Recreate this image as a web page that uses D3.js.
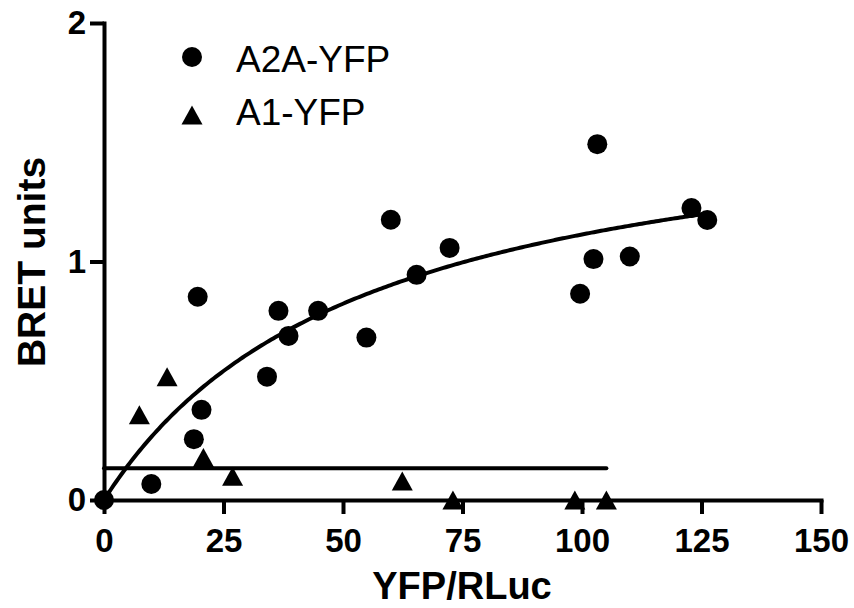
<!DOCTYPE html>
<html>
<head>
<meta charset="utf-8">
<script src="https://cdn.jsdelivr.net/npm/d3@7"></script>
<style>
  html, body { margin: 0; padding: 0; background: #fff; }
  svg { display: block; }
  text { font-family: "Liberation Sans", Arial, Helvetica, sans-serif; fill: #000; }
</style>
</head>
<body>
<svg id="chart" width="854" height="608"></svg>
<script>
// ---- data ----
const a2aX = [0, 9.9, 19.6, 20.4, 18.8, 34.1, 36.5, 38.6, 44.8, 54.9, 60.0, 65.4, 72.3, 103.2, 122.9, 126.2, 102.4, 110.0, 99.6];
const a2aY = [0, 0.067, 0.852, 0.378, 0.255, 0.517, 0.793, 0.688, 0.793, 0.681, 1.175, 0.944, 1.057, 1.492, 1.224, 1.174, 1.010, 1.021, 0.865];
const a1X = [7.4, 13.2, 20.8, 26.9, 62.4, 73.0, 98.5, 105.1];
const a1Y = [0.357, 0.517, 0.178, 0.100, 0.080, 0.0, 0.0, 0.0];
const a2aBmax = 1.72;   // hyperbolic fit, A2A-YFP
const a2aKd = 54.5;
const a1Level = 0.133;  // flat fit, A1-YFP
const xTicks = [0, 25, 50, 75, 100, 125, 150];
const yTicks = [0, 1, 2];
const seriesNames = ["A2A-YFP", "A1-YFP"];
const xTitle = "YFP/RLuc";
const yTitle = "BRET units";

// ---- layout ----
const svg = d3.select("#chart");
const x = d3.scaleLinear().domain([0, 150]).range([104, 821]);
const y = d3.scaleLinear().domain([0, 2]).range([500, 23]);
const SW = 4;

// axes
const xAxis = d3.axisBottom(x).tickValues(xTicks).tickSize(14).tickSizeOuter(0).tickPadding(15).tickFormat(d3.format("d"));
const yAxis = d3.axisLeft(y).tickValues(yTicks).tickSize(14).tickSizeOuter(0).tickPadding(4).tickFormat(d3.format("d"));

const gx = svg.append("g").attr("transform", `translate(0,${y(0)})`).call(xAxis);
const gy = svg.append("g").attr("transform", `translate(${x(0)},0)`).call(yAxis);
[gx, gy].forEach(g => {
  g.select(".domain").attr("stroke", "#000").attr("stroke-width", SW).attr("stroke-linecap", "square");
  g.selectAll(".tick line").attr("stroke", "#000").attr("stroke-width", SW);
  g.selectAll(".tick text").attr("font-size", 33).attr("font-weight", "bold")
    .attr("font-family", "'Liberation Sans', Arial, sans-serif").attr("fill", "#000");
});

// titles
svg.append("text").attr("x", 462).attr("y", 599).attr("text-anchor", "middle")
  .attr("font-size", 38).attr("font-weight", "bold").text(xTitle);
svg.append("text").attr("transform", "translate(45,262) rotate(-90)").attr("text-anchor", "middle")
  .attr("font-size", 39).attr("font-weight", "bold").text(yTitle);

// fits
const curveX = d3.range(0, d3.max(a2aX) + 0.001, 0.5);
const line = d3.line().x(d => x(d[0])).y(d => y(d[1]));
svg.append("path")
  .datum(curveX.map(v => [v, a2aBmax * v / (a2aKd + v)]))
  .attr("d", line).attr("fill", "none").attr("stroke", "#000").attr("stroke-width", SW);
svg.append("path")
  .datum([[0, a1Level], [d3.max(a1X), a1Level]])
  .attr("d", line).attr("fill", "none").attr("stroke", "#000").attr("stroke-width", SW).attr("stroke-linecap", "round");

// markers
function triPath(cx, cy, w, h) {
  const p = d3.path();
  p.moveTo(cx, cy - h / 2);
  p.lineTo(cx + w / 2, cy + h / 2);
  p.lineTo(cx - w / 2, cy + h / 2);
  p.closePath();
  return p.toString();
}
svg.append("g").selectAll("circle").data(a2aX.map((v, i) => [v, a2aY[i]])).join("circle")
  .attr("cx", d => x(d[0])).attr("cy", d => y(d[1])).attr("r", 10).attr("fill", "#000");
svg.append("g").selectAll("path").data(a1X.map((v, i) => [v, a1Y[i]])).join("path")
  .attr("d", d => triPath(x(d[0]), y(d[1]), 21, 19)).attr("fill", "#000");

// legend
const leg = svg.append("g");
leg.append("circle").attr("cx", 192).attr("cy", 57).attr("r", 10).attr("fill", "#000");
leg.append("path").attr("d", triPath(192, 115, 21, 19)).attr("fill", "#000");
leg.append("text").attr("x", 236).attr("y", 72).attr("font-size", 37).text(seriesNames[0]);
leg.append("text").attr("x", 236).attr("y", 125).attr("font-size", 37).text(seriesNames[1]);
</script>
</body>
</html>
